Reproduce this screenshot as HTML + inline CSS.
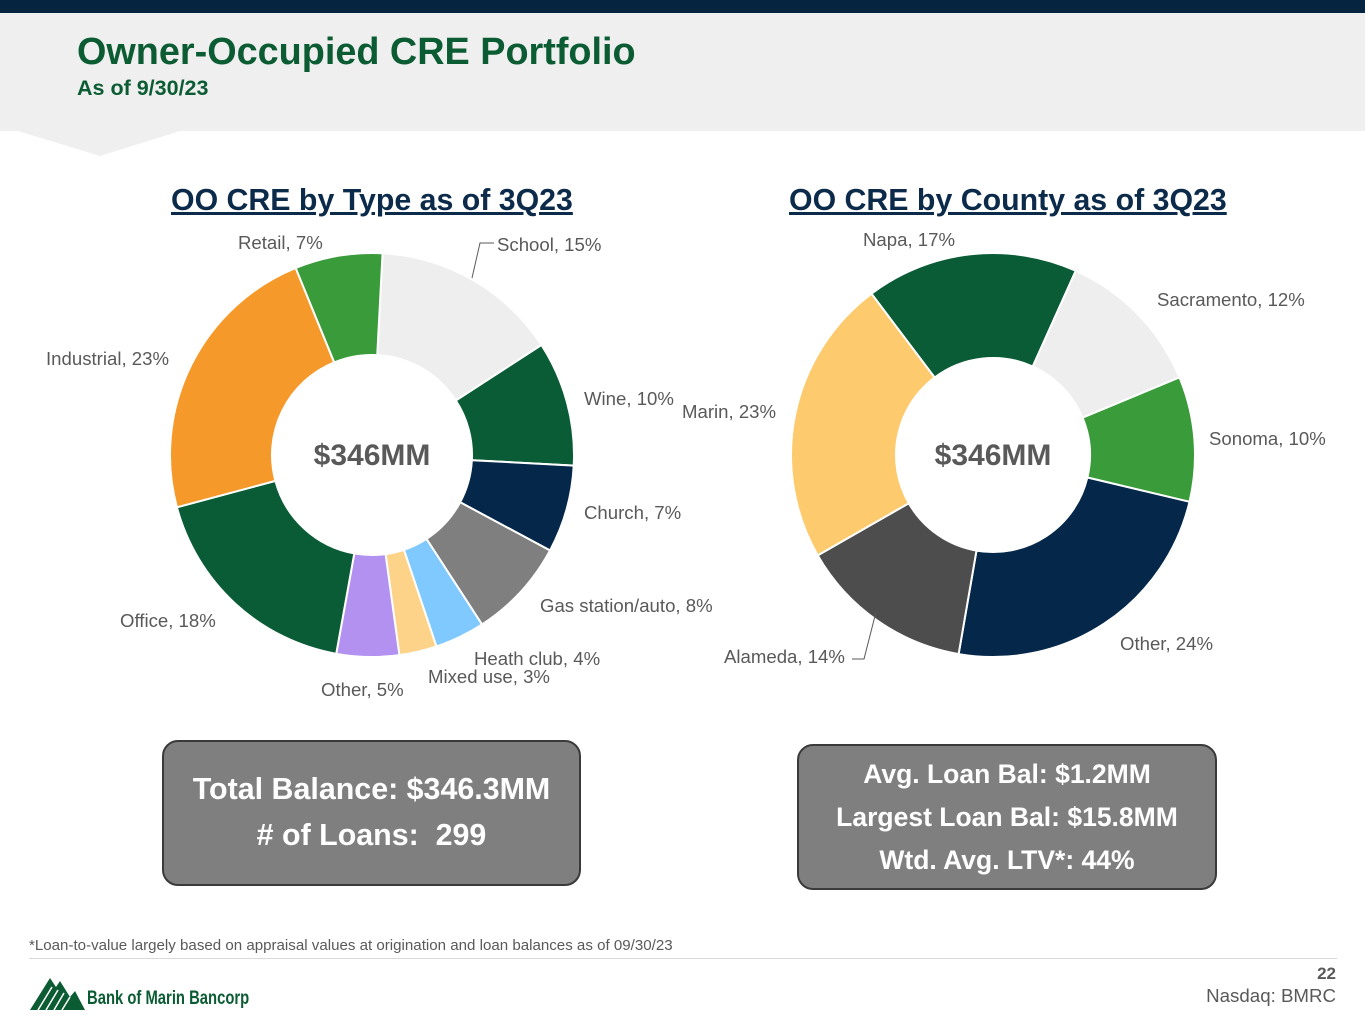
<!DOCTYPE html>
<html><head><meta charset="utf-8">
<style>
body{margin:0;width:1365px;height:1024px;position:relative;overflow:hidden;background:#fff;font-family:"Liberation Sans",Arial,sans-serif;}
.abs{position:absolute;}
.lbl{position:absolute;font-size:18.6px;color:#595959;white-space:nowrap;}
.ctitle{position:absolute;font-size:30.3px;font-weight:bold;color:#0c2a4a;text-decoration:underline;white-space:nowrap;}
.box{position:absolute;background:#7f7f7f;border:2px solid #3a3a3a;border-radius:16px;color:#fff;font-weight:bold;text-align:center;}
</style></head><body>
<div class="abs" style="left:0;top:0;width:1365px;height:13px;background:#04243f"></div>
<svg class="abs" style="left:0;top:13px" width="1365" height="150">
<polygon points="0,0 1365,0 1365,118 180,118 100,143 18,118 0,118" fill="#efefef"/>
</svg>
<div class="abs" style="left:77px;top:31px;font-size:37.8px;font-weight:bold;color:#0b5c33">Owner-Occupied CRE Portfolio</div>
<div class="abs" style="left:77px;top:76px;font-size:21.5px;font-weight:bold;color:#0b5c33">As of 9/30/23</div>

<div class="ctitle" style="left:171px;top:184px">OO CRE by Type as of 3Q23</div>
<div class="ctitle" style="left:789px;top:184px">OO CRE by County as of 3Q23</div>

<svg id="chart" class="abs" style="left:0;top:0" width="1365" height="720"></svg>

<div class="lbl" style="left:238px;top:232px">Retail, 7%</div>
<div class="lbl" style="left:497px;top:234px">School, 15%</div>
<div class="lbl" style="left:46px;top:348px">Industrial, 23%</div>
<div class="lbl" style="left:584px;top:388px">Wine, 10%</div>
<div class="lbl" style="left:584px;top:502px">Church, 7%</div>
<div class="lbl" style="left:540px;top:595px">Gas station/auto, 8%</div>
<div class="lbl" style="left:120px;top:610px">Office, 18%</div>
<div class="lbl" style="left:474px;top:648px">Heath club, 4%</div>
<div class="lbl" style="left:428px;top:666px">Mixed use, 3%</div>
<div class="lbl" style="left:321px;top:679px">Other, 5%</div>

<div class="lbl" style="left:863px;top:229px">Napa, 17%</div>
<div class="lbl" style="left:1157px;top:289px">Sacramento, 12%</div>
<div class="lbl" style="left:682px;top:401px">Marin, 23%</div>
<div class="lbl" style="left:1209px;top:428px">Sonoma, 10%</div>
<div class="lbl" style="left:1120px;top:633px">Other, 24%</div>
<div class="lbl" style="left:724px;top:646px">Alameda, 14%</div>

<div class="box" style="left:162px;top:740px;width:419px;height:146px;font-size:30.4px;line-height:46px;padding-top:24px;box-sizing:border-box">Total Balance: $346.3MM<br># of Loans:&nbsp; 299</div>
<div class="box" style="left:797px;top:744px;width:420px;height:146px;font-size:26.5px;line-height:43px;padding-top:7px;box-sizing:border-box">Avg. Loan Bal: $1.2MM<br>Largest Loan Bal: $15.8MM<br>Wtd. Avg. LTV*: 44%</div>

<div class="abs" style="left:29px;top:937px;font-size:15.1px;color:#595959">*Loan-to-value largely based on appraisal values at origination and loan balances as of 09/30/23</div>
<div class="abs" style="left:29px;top:958px;width:1308px;height:1px;background:#d9d9d9"></div>
<svg class="abs" style="left:30px;top:975px" width="55" height="36">
<polygon points="0,35 20,3 26,12 30,6 40,22 45,16 55,35" fill="#0b5c33"/>
<g stroke="#fff" stroke-width="1.5"><line x1="8" y1="35" x2="22" y2="12"/><line x1="16" y1="35" x2="28" y2="15"/><line x1="24" y1="35" x2="34" y2="18"/><line x1="32" y1="35" x2="40" y2="22"/></g>
</svg>
<div class="abs" style="left:87px;top:988px;font-size:19px;font-weight:bold;color:#0b5c33;transform:scaleX(0.78);transform-origin:left">Bank of Marin Bancorp</div>
<div class="abs" style="right:29px;top:964px;font-size:17px;font-weight:bold;color:#595959">22</div>
<div class="abs" style="right:29px;top:985px;font-size:18.7px;color:#595959">Nasdaq: BMRC</div>

<script>
const typeCategories=["School","Wine","Church","Gas station/auto","Heath club","Mixed use","Other","Office","Industrial","Retail"];
const typeValues=[15,10,7,8,4,3,5,18,23,7];
const typeColors=["#eeeeee","#0a5c36","#04274a","#7f7f7f","#7fc9ff","#fdd38a","#b291f0","#0a5c36","#f6992b","#3a9b3a"];
const countyCategories=["Napa","Sacramento","Sonoma","Other","Alameda","Marin"];
const countyValues=[17,12,10,24,14,23];
const countyColors=["#0a5c36","#eeeeee","#3a9b3a","#04274a","#4d4d4d","#fdcb6e"];
const centerLabel="$346MM";
const NS="http://www.w3.org/2000/svg";
const svg=document.getElementById('chart');
function pt(cx,cy,r,a){const t=a*Math.PI/180;return [cx+r*Math.sin(t),cy-r*Math.cos(t)];}
function donut(name,cats,vals,cols,cx,cy,R,r,start){
  const total=vals.reduce((a,b)=>a+b,0);let a=start;
  vals.forEach((v,i)=>{
    const sweep=v/total*360,b=a+sweep,lg=sweep>180?1:0;
    const p1=pt(cx,cy,R,a),p2=pt(cx,cy,R,b),p3=pt(cx,cy,r,b),p4=pt(cx,cy,r,a);
    const p=document.createElementNS(NS,'path');
    p.setAttribute('d',`M${p1[0]},${p1[1]}A${R},${R} 0 ${lg} 1 ${p2[0]},${p2[1]}L${p3[0]},${p3[1]}A${r},${r} 0 ${lg} 0 ${p4[0]},${p4[1]}Z`);
    p.setAttribute('fill',cols[i]);p.setAttribute('stroke','#fff');p.setAttribute('stroke-width','2');
    
    
    svg.appendChild(p);a=b;});
  const t=document.createElementNS(NS,'text');
  t.setAttribute('x',cx);t.setAttribute('y',cy+10);t.setAttribute('text-anchor','middle');
  t.setAttribute('font-size','30');t.setAttribute('font-weight','bold');t.setAttribute('fill','#595959');
  t.setAttribute('font-family','Liberation Sans, sans-serif');t.textContent=centerLabel;
  
  
  svg.appendChild(t);
}
donut('type',typeCategories,typeValues,typeColors,372,455,202,100,3);
donut('county',countyCategories,countyValues,countyColors,993,455,202,97,-37);
function line(pts){const l=document.createElementNS(NS,'polyline');l.setAttribute('points',pts);l.setAttribute('fill','none');l.setAttribute('stroke','#595959');l.setAttribute('stroke-width','1');


svg.appendChild(l);}
line("472,278 480,243 494,243");
line("876,612 864,659 852,659");
</script>
</body></html>
